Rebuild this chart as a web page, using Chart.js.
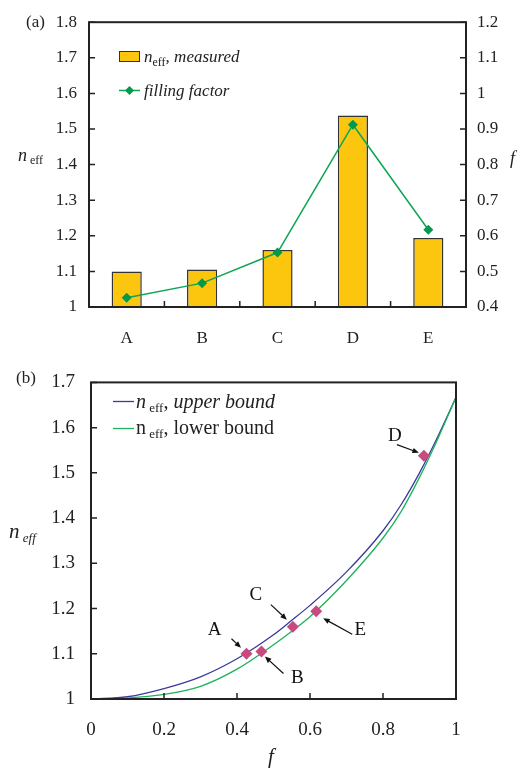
<!DOCTYPE html>
<html>
<head>
<meta charset="utf-8">
<script src="https://cdn.jsdelivr.net/npm/chart.js@4.4.0/dist/chart.umd.min.js"></script>
<style>
body { margin: 0; background: #fff; }
#wrapA { position: absolute; left: 0; top: 0; width: 521px; height: 350px; }
#wrapB { position: absolute; left: 0; top: 355px; width: 521px; height: 417px; }
</style>
</head>
<body>
<div id="wrapA"><canvas id="chartA"></canvas></div>
<div id="wrapB"><canvas id="chartB"></canvas></div>
<script>
// (a) measured samples
var samples = ['A', 'B', 'C', 'D', 'E'];
var n_measured = [1.10, 1.105, 1.16, 1.538, 1.194];
var filling = [0.426, 0.467, 0.553, 0.912, 0.617];

// (b) bound curves
var f_grid  = [0, 0.1, 0.2, 0.3, 0.4, 0.5, 0.55, 0.6, 0.7, 0.8, 0.85, 0.9, 0.95, 1];
var n_upper = [1.000, 1.005, 1.023, 1.049, 1.089, 1.142, 1.174, 1.207, 1.281, 1.372, 1.430, 1.500, 1.580, 1.667];
var n_lower = [1.000, 1.002, 1.010, 1.028, 1.066, 1.120, 1.150, 1.182, 1.262, 1.356, 1.415, 1.490, 1.575, 1.667];

var serif = '"Liberation Serif", "Times New Roman", serif';
Chart.defaults.font.family = serif;
Chart.defaults.color = '#222';

var ink = '#222';
var gold = '#fdc60e';
var green = '#0ea554';
var navy = '#3a3a9c';
var green2 = '#1db25c';
var pink = '#c94a80';

// 1.80 -> 1.8, 1.0 -> 1
function plain(v) { return String(Number(v.toFixed(2))); }

function runs(ctx, x, y, parts) {
    ctx.save();
    ctx.fillStyle = ink;
    ctx.textAlign = 'left';
    ctx.textBaseline = 'alphabetic';
    parts.forEach(function (p) {
        ctx.font = p[1];
        ctx.fillText(p[0], x, y + (p[2] || 0));
        x += ctx.measureText(p[0]).width;
    });
    ctx.restore();
}

function arrow(ctx, x1, y1, x2, y2) {
    var a = Math.atan2(y2 - y1, x2 - x1), h = 7;
    ctx.beginPath();
    ctx.moveTo(x1, y1);
    ctx.lineTo(x2 - h * 0.7 * Math.cos(a), y2 - h * 0.7 * Math.sin(a));
    ctx.stroke();
    ctx.beginPath();
    ctx.moveTo(x2, y2);
    ctx.lineTo(x2 - h * Math.cos(a - 0.4), y2 - h * Math.sin(a - 0.4));
    ctx.lineTo(x2 - h * Math.cos(a + 0.4), y2 - h * Math.sin(a + 0.4));
    ctx.closePath();
    ctx.fill();
}

function frame(ctx, area) {
    ctx.strokeStyle = ink;
    ctx.lineWidth = 2;
    ctx.strokeRect(area.left, area.top, area.right - area.left, area.bottom - area.top);
}

// panel (a) extras: frame, inward ticks, titles, legend
var extrasA = {
    id: 'extrasA',
    afterDraw: function (chart) {
        var ctx = chart.ctx, a = chart.chartArea;
        var y = chart.scales.y, y1 = chart.scales.y1, x = chart.scales.x;
        ctx.save();
        frame(ctx, a);
        ctx.lineWidth = 1.5;
        ctx.beginPath();
        y.ticks.forEach(function (t) {
            var py = y.getPixelForValue(t.value);
            ctx.moveTo(a.left, py); ctx.lineTo(a.left + 6, py);
        });
        y1.ticks.forEach(function (t) {
            var py = y1.getPixelForValue(t.value);
            ctx.moveTo(a.right, py); ctx.lineTo(a.right - 6, py);
        });
        for (var i = 0; i < samples.length - 1; i++) {
            var px = (x.getPixelForTick(i) + x.getPixelForTick(i + 1)) / 2;
            ctx.moveTo(px, a.bottom); ctx.lineTo(px, a.bottom - 6);
        }
        ctx.stroke();

        runs(ctx, 26, 27, [['(a)', '17px ' + serif]]);
        runs(ctx, 18, 161, [['n', 'italic 18px ' + serif], [' eff', '12px ' + serif, 3]]);
        runs(ctx, 510, 164, [['f', 'italic 18px ' + serif]]);

        // legend
        ctx.fillStyle = gold;
        ctx.fillRect(119.5, 51.5, 20, 10);
        ctx.strokeStyle = '#333';
        ctx.lineWidth = 1;
        ctx.strokeRect(119.5, 51.5, 20, 10);
        runs(ctx, 144, 62, [['n', 'italic 17px ' + serif], ['eff', '12px ' + serif, 4], [', measured', 'italic 17px ' + serif]]);
        ctx.strokeStyle = green;
        ctx.lineWidth = 1.5;
        ctx.beginPath(); ctx.moveTo(119, 90.5); ctx.lineTo(140, 90.5); ctx.stroke();
        ctx.fillStyle = '#009a4e';
        ctx.beginPath();
        ctx.moveTo(129.5, 86); ctx.lineTo(134, 90.5); ctx.lineTo(129.5, 95); ctx.lineTo(125, 90.5);
        ctx.closePath(); ctx.fill();
        runs(ctx, 144, 96, [['filling factor', 'italic 17px ' + serif]]);
        ctx.restore();
    }
};

new Chart(document.getElementById('chartA'), {
    type: 'bar',
    data: {
        labels: samples,
        datasets: [
            { type: 'line', label: 'filling factor', data: filling, yAxisID: 'y1', order: 1,
              borderColor: green, borderWidth: 1.5, pointStyle: 'rectRot', pointRadius: 5,
              pointBackgroundColor: '#009a4e', pointBorderWidth: 0, tension: 0 },
            { type: 'bar', label: 'n_eff, measured', data: n_measured, yAxisID: 'y', order: 2,
              backgroundColor: gold, borderColor: '#333', borderWidth: 1.5,
              categoryPercentage: 1, barPercentage: 0.4 }
        ]
    },
    options: {
        responsive: true, maintainAspectRatio: false, animation: false,
        layout: { padding: { top: 19, left: 0, right: 0, bottom: 0 } },
        plugins: { legend: { display: false }, tooltip: { enabled: false } },
        scales: {
            x: { grid: { display: false }, border: { display: false },
                 ticks: { font: { size: 17 }, color: ink, padding: 13 },
                 afterFit: function (s) { s.height = 43; } },
            y: { position: 'left', min: 1, max: 1.8,
                 grid: { display: false, drawTicks: false }, border: { display: false },
                 ticks: { stepSize: 0.1, font: { size: 17 }, color: ink, padding: 12, callback: plain },
                 afterFit: function (s) { s.width = 89; } },
            y1: { position: 'right', min: 0.4, max: 1.2,
                  grid: { display: false, drawTicks: false }, border: { display: false },
                  ticks: { stepSize: 0.1, font: { size: 17 }, color: ink, padding: 11, callback: plain },
                  afterFit: function (s) { s.width = 55; } }
        }
    },
    plugins: [extrasA]
});

// label and arrow placement around each measured point (pixels from the point)
var callouts = [
    { lx: -32, ly: -24, sx: -15, sy: -15, ex: -5.5, ey: -6 },
    { lx: 36, ly: 27, sx: 22, sy: 22, ex: 3.5, ey: 5 },
    { lx: -37, ly: -32, sx: -22, sy: -22, ex: -6, ey: -7 },
    { lx: -29, ly: -20, sx: -27, sy: -11, ex: -5, ey: -3 },
    { lx: 44, ly: 19, sx: 36, sy: 23, ex: 7, ey: 7 }
];

var extrasB = {
    id: 'extrasB',
    afterDraw: function (chart) {
        var ctx = chart.ctx, a = chart.chartArea;
        var x = chart.scales.x, y = chart.scales.y;
        ctx.save();
        frame(ctx, a);
        ctx.lineWidth = 1.5;
        ctx.beginPath();
        y.ticks.forEach(function (t) {
            var py = y.getPixelForValue(t.value);
            ctx.moveTo(a.left, py); ctx.lineTo(a.left + 6, py);
        });
        x.ticks.forEach(function (t) {
            var px = x.getPixelForValue(t.value);
            ctx.moveTo(px, a.bottom); ctx.lineTo(px, a.bottom - 6);
        });
        ctx.stroke();

        // callouts
        ctx.strokeStyle = '#111';
        ctx.fillStyle = '#111';
        ctx.lineWidth = 1.2;
        samples.forEach(function (s, i) {
            var px = x.getPixelForValue(filling[i]), py = y.getPixelForValue(n_measured[i]);
            var c = callouts[i];
            arrow(ctx, px + c.sx, py + c.sy, px + c.ex, py + c.ey);
            ctx.font = '19px ' + serif;
            ctx.textAlign = 'center';
            ctx.textBaseline = 'middle';
            ctx.fillText(s, px + c.lx, py + c.ly);
        });

        runs(ctx, 16, 28, [['(b)', '17px ' + serif]]);
        runs(ctx, 9, 183, [['n', 'italic 21px ' + serif], [' eff', 'italic 13px ' + serif, 4]]);
        runs(ctx, 268, 408, [['f', 'italic 21px ' + serif]]);

        // legend
        ctx.lineWidth = 1.3;
        ctx.strokeStyle = navy;
        ctx.beginPath(); ctx.moveTo(113, 46.5); ctx.lineTo(134, 46.5); ctx.stroke();
        ctx.strokeStyle = green2;
        ctx.beginPath(); ctx.moveTo(113, 73.5); ctx.lineTo(134, 73.5); ctx.stroke();
        runs(ctx, 136, 53, [['n', 'italic 20px ' + serif], [' eff', '13px ' + serif, 4], [', ', '20px ' + serif], ['upper bound', 'italic 20px ' + serif]]);
        runs(ctx, 136, 79, [['n', '20px ' + serif], [' eff', '13px ' + serif, 4], [', lower bound', '20px ' + serif]]);
        ctx.restore();
    }
};

new Chart(document.getElementById('chartB'), {
    type: 'scatter',
    data: {
        datasets: [
            { label: 'measured', data: filling.map(function (f, i) { return { x: f, y: n_measured[i] }; }),
              pointStyle: 'rectRot', pointRadius: 6, pointBackgroundColor: pink, pointBorderWidth: 0, order: 0 },
            { label: 'upper bound', type: 'line', data: f_grid.map(function (f, i) { return { x: f, y: n_upper[i] }; }),
              borderColor: navy, borderWidth: 1.3, pointRadius: 0, cubicInterpolationMode: 'monotone', order: 2 },
            { label: 'lower bound', type: 'line', data: f_grid.map(function (f, i) { return { x: f, y: n_lower[i] }; }),
              borderColor: green2, borderWidth: 1.3, pointRadius: 0, cubicInterpolationMode: 'monotone', order: 1 }
        ]
    },
    options: {
        responsive: true, maintainAspectRatio: false, animation: false,
        layout: { padding: { top: 19, left: 0, right: 65, bottom: 0 } },
        plugins: { legend: { display: false }, tooltip: { enabled: false } },
        scales: {
            x: { type: 'linear', min: 0, max: 1,
                 grid: { display: false, drawTicks: false }, border: { display: false },
                 ticks: { stepSize: 0.2, font: { size: 19 }, color: ink, padding: 20, callback: plain },
                 afterFit: function (s) { s.height = 73; } },
            y: { min: 1, max: 1.7,
                 grid: { display: false, drawTicks: false }, border: { display: false },
                 ticks: { stepSize: 0.1, font: { size: 19 }, color: ink, padding: 16, callback: plain },
                 afterFit: function (s) { s.width = 91; } }
        }
    },
    plugins: [extrasB]
});
</script>
</body>
</html>
